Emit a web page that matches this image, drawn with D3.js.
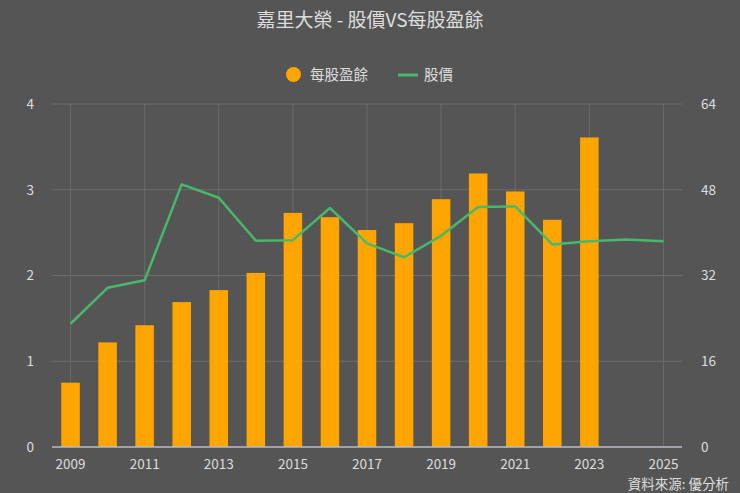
<!DOCTYPE html>
<html><head><meta charset="utf-8">
<script src="https://cdn.jsdelivr.net/npm/d3@7"></script>
<style>body{margin:0;background:#555555;}svg{display:block;font-family:"Noto Sans CJK TC","Noto Sans",sans-serif;}</style>
</head><body>
<svg id="c" width="740" height="493"></svg>
<script>
const years = [2009,2010,2011,2012,2013,2014,2015,2016,2017,2018,2019,2020,2021,2022,2023,2024,2025];
const eps = [0.75,1.22,1.42,1.69,1.83,2.03,2.73,2.68,2.53,2.61,2.89,3.19,2.98,2.65,3.61,null,null];
const price = [23.0,29.7,31.1,49.0,46.5,38.5,38.6,44.6,38.0,35.4,39.4,44.8,44.9,37.8,38.4,38.7,38.4];
const leftTicks = [0,1,2,3,4];
const rightTicks = [0,16,32,48,64];
const xTickYears = [2009,2011,2013,2015,2017,2019,2021,2023,2025];

const svg = d3.select("#c");
const L = 52, R = 682, T = 104, B = 447;
const txt = "#dddddd";
const font = "'Noto Sans CJK TC','Noto Sans',sans-serif";
svg.append("rect").attr("width",740).attr("height",493).attr("fill","#555555");

const x = d3.scaleBand().domain(years).range([L,R]).paddingInner(0.5).paddingOuter(0.25);
const yL = d3.scaleLinear().domain([0,4]).range([B,T]);
const yR = d3.scaleLinear().domain([0,64]).range([B,T]);
const cx = d => x(d) + x.bandwidth()/2;

// grid
svg.append("g").selectAll("line").data(leftTicks.slice(1)).join("line")
  .attr("x1",L).attr("x2",R).attr("y1",d=>yL(d)).attr("y2",d=>yL(d))
  .attr("stroke","#6e6e6e").attr("stroke-width",1);
svg.append("g").selectAll("line").data(xTickYears).join("line")
  .attr("x1",d=>cx(d)).attr("x2",d=>cx(d)).attr("y1",T).attr("y2",B)
  .attr("stroke","#6a6a6a").attr("stroke-width",1);

// bars
svg.append("g").selectAll("rect").data(years.map((y,i)=>({y,v:eps[i]})).filter(d=>d.v!=null)).join("rect")
  .attr("x",d=>x(d.y)).attr("width",x.bandwidth())
  .attr("y",d=>yL(d.v)).attr("height",d=>B-yL(d.v))
  .attr("fill","#FFA500");

// line
const line = d3.line().x((d,i)=>cx(years[i])).y(d=>yR(d));
svg.append("path").datum(price).attr("d",line).attr("fill","none")
  .attr("stroke","#48b86a").attr("stroke-width",2.5).attr("stroke-linejoin","round");

// x axis baseline
svg.append("line").attr("x1",L).attr("x2",R).attr("y1",B).attr("y2",B).attr("stroke","#b8bcc8").attr("stroke-width",1.5);

// axes
const ax = d3.axisBottom(x).tickValues(xTickYears).tickSize(0).tickPadding(12);
const gx = svg.append("g").attr("transform",`translate(0,${B})`).call(ax);
const al = d3.axisLeft(yL).tickValues(leftTicks).tickSize(0).tickPadding(18).tickFormat(d3.format("d"));
const gl = svg.append("g").attr("transform",`translate(${L},0)`).call(al);
const ar = d3.axisRight(yR).tickValues(rightTicks).tickSize(0).tickPadding(19).tickFormat(d3.format("d"));
const gr = svg.append("g").attr("transform",`translate(${R},0)`).call(ar);
[gx,gl,gr].forEach(g=>{g.select(".domain").remove();g.selectAll("text").attr("fill",txt).attr("font-size",13.5).attr("font-family",font);});

// title
svg.append("text").attr("x",370).attr("y",27).attr("text-anchor","middle").attr("fill",txt)
  .attr("font-size",19).text("嘉里大榮 - 股價VS每股盈餘");

// legend
const lg = svg.append("g");
lg.append("circle").attr("cx",293.5).attr("cy",74.5).attr("r",7.5).attr("fill","#FFA500");
lg.append("text").attr("x",310).attr("y",80).attr("fill",txt).attr("font-size",14.5).text("每股盈餘");
lg.append("line").attr("x1",398).attr("x2",418).attr("y1",75).attr("y2",75).attr("stroke","#48b86a").attr("stroke-width",3);
lg.append("text").attr("x",424).attr("y",80).attr("fill",txt).attr("font-size",14.5).text("股價");

// source
svg.append("text").attr("x",729).attr("y",489).attr("text-anchor","end").attr("fill",txt)
  .attr("font-size",13.5).text("資料來源: 優分析");
</script>
</body></html>
